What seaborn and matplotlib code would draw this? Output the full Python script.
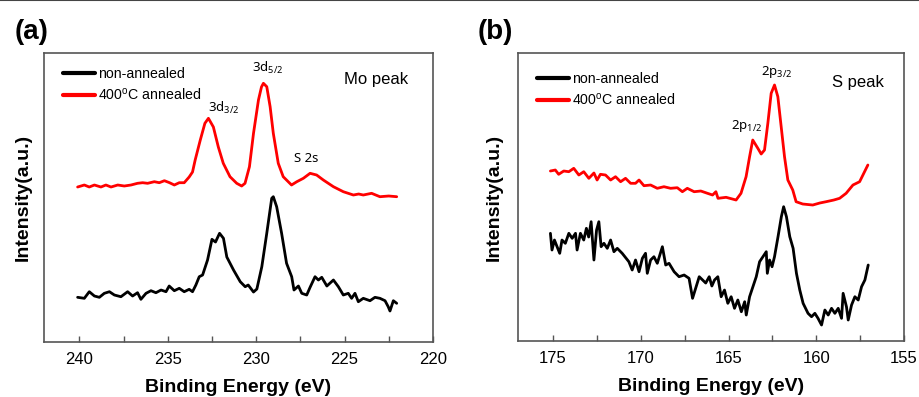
import numpy as np
import pandas as pd
import matplotlib
matplotlib.use("Agg")
import matplotlib.pyplot as plt
from matplotlib.ticker import MultipleLocator
from matplotlib.lines import Line2D
import seaborn as sns

# ---------------- data: panel (a) Mo 3d ----------------
mo_red_ev = [240.1, 239.72, 239.44, 239.15, 238.78, 238.5, 238.21, 237.83, 237.46, 237.08,
             236.71, 236.42, 236.14, 235.76, 235.48, 235.19, 234.9, 234.63, 234.35, 234.07,
             233.79, 233.6, 233.45, 233.16, 232.9, 232.7, 232.42, 232.14, 231.86, 231.48,
             231.1, 230.82, 230.63, 230.38, 230.15, 229.87, 229.7, 229.59, 229.4, 229.21,
             229.03, 228.75, 228.47, 228.0, 227.7, 227.33, 226.95, 226.58, 226.2, 225.63,
             225.07, 224.5, 224.2, 223.94, 223.47, 223.0, 222.5, 222.05]
mo_red_int = [155, 157, 155, 157, 155, 157, 155, 157, 156, 157,
              158.7, 159.3, 158.7, 160.3, 159.3, 161.3, 159.3, 157, 159.3, 159.3,
              165, 170, 182, 202, 218.7, 223.7, 215, 195, 178.7, 165.3,
              158.7, 156, 158.7, 175.3, 208.7, 242, 255, 258.7, 255.3, 235.3,
              208.7, 178.7, 165.3, 157, 160.3, 163.7, 168.7, 167, 162, 155.3,
              150.3, 147, 148, 147, 148.7, 145.3, 146, 145.3]

mo_blk_ev = [240.1, 239.72, 239.44, 239.15, 238.87, 238.59, 238.3, 238.02, 237.65, 237.27,
             236.99, 236.71, 236.52, 236.23, 235.95, 235.67, 235.38, 235.1, 234.92, 234.63,
             234.35, 234.07, 233.79, 233.6, 233.41, 233.22, 233.03, 232.75, 232.5, 232.3,
             232.07, 231.85, 231.66, 231.28, 230.9, 230.62, 230.45, 230.15, 229.96, 229.68,
             229.4, 229.12, 229.03, 228.84, 228.56, 228.28, 227.99, 227.86, 227.61, 227.42,
             227.14, 226.95, 226.67, 226.48, 226.29, 226.0, 225.63, 225.35, 225.07, 224.79,
             224.6, 224.41, 224.22, 223.94, 223.56, 223.28, 223.0, 222.71, 222.53, 222.43,
             222.24, 222.05]
mo_blk_int = [44.7, 43.7, 50.3, 46, 44.7, 48.7, 50.3, 47, 45.3, 50.3,
              46, 49.3, 42.7, 48.7, 51.3, 49.3, 52, 50.3, 56, 51.3,
              53.7, 50.3, 52.7, 50.3, 57, 65.3, 67, 82, 102.7, 100,
              108.7, 103.7, 85, 72, 60.3, 55.3, 57, 50, 53, 75.3,
              108.7, 143.7, 145.3, 135.3, 108.7, 78.7, 65.3, 52, 56, 48.7,
              47, 54.7, 65.3, 62, 64.7, 56, 62, 55.3, 47, 48.7,
              43.7, 48.7, 40.3, 43.7, 41.3, 44.7, 43.7, 41.3, 35.3, 31,
              41.3, 38.7]

# ---------------- data: panel (b) S 2p ----------------
s_red_ev = [175.15, 174.87, 174.68, 174.39, 174.1, 173.82, 173.53, 173.25, 172.96, 172.67,
            172.49, 172.3, 172.01, 171.72, 171.44, 171.15, 170.87, 170.58, 170.3, 170.1,
            169.82, 169.44, 169.06, 168.68, 168.3, 167.92, 167.63, 167.35, 166.96, 166.58,
            166.2, 165.91, 165.72, 165.6, 165.14, 164.57, 164.29, 164.0, 163.8, 163.62,
            163.33, 163.14, 162.95, 162.76, 162.57, 162.38, 162.19, 162.0, 161.81, 161.62,
            161.34, 161.15, 160.77, 160.2, 159.8, 159.44, 159.0, 158.67, 158.3, 157.91,
            157.53, 157.06]
s_red_int = [170, 171, 166.7, 170, 169.3, 172.7, 166, 169.3, 162.7, 168,
             161, 166.7, 166, 161, 164.3, 159.3, 162.7, 157.7, 157.7, 161,
             155.3, 156, 152.7, 154.3, 152.7, 153.3, 149.3, 152.7, 149.3, 150,
             147.7, 146, 149.3, 142.7, 143.7, 141, 147.7, 164.3, 184.3, 201,
             192.7, 187, 191, 217.7, 247.7, 256, 244.3, 214.3, 184.3, 161,
             151, 139.3, 137, 136, 138, 139.3, 141, 142.7, 147.7, 156,
             159.3, 176]

s_blk_ev = [175.15, 175.06, 174.92, 174.77, 174.62, 174.49, 174.3, 174.1, 173.91, 173.72,
            173.63, 173.44, 173.25, 173.1, 172.97, 172.83, 172.67, 172.52, 172.39, 172.26,
            172.1, 171.91, 171.72, 171.53, 171.34, 171.06, 170.68, 170.49, 170.3, 170.1,
            169.91, 169.73, 169.63, 169.44, 169.25, 169.06, 168.77, 168.58, 168.39, 168.1,
            167.82, 167.53, 167.25, 167.05, 166.67, 166.3, 166.1, 165.95, 165.8, 165.61,
            165.42, 165.23, 165.04, 164.85, 164.66, 164.47, 164.27, 164.08, 163.99, 163.8,
            163.61, 163.42, 163.23, 163.04, 162.85, 162.79, 162.66, 162.52, 162.38, 162.18,
            161.99, 161.86, 161.7, 161.51, 161.32, 161.13, 160.94, 160.75, 160.47, 160.27,
            160.08, 159.9, 159.7, 159.51, 159.32, 159.13, 158.94, 158.75, 158.56, 158.47,
            158.28, 158.18, 157.99, 157.8, 157.61, 157.42, 157.23, 157.04]
s_blk_int = [107.7, 91, 101, 94.3, 87.7, 101, 97.7, 107.7, 102.7, 107.7,
             91, 107.7, 101, 112.7, 104, 119.3, 81, 111, 119.3, 94.3,
             97.7, 92.7, 101, 89.3, 92.7, 87.7, 79.3, 71, 81, 69.3,
             82.7, 87.7, 67.7, 81, 84.3, 77.7, 94.3, 76, 77.7, 69.3,
             64.3, 66, 62.7, 42.7, 64.3, 58, 64.3, 55, 61, 64.3,
             44.3, 51, 37.7, 44.3, 32.7, 41, 29.3, 39.3, 26, 44.3,
             54.3, 64.3, 79.3, 84.3, 89.3, 67.7, 81, 74.3, 84.3, 104.3,
             124.3, 134.3, 124.3, 104.3, 92.7, 67.7, 51, 37.7, 27.7, 24.3,
             27.7, 22.7, 16, 31, 26, 32.7, 27.7, 32.7, 22.7, 47.7,
             34.3, 21, 36, 44.3, 41, 54.3, 61, 76]

legend_labels = ["non-annealed", "400$^{\\mathregular{o}}$C annealed"]

df_a = pd.concat([
    pd.DataFrame({"E": mo_blk_ev, "I": mo_blk_int, "s": legend_labels[0]}),
    pd.DataFrame({"E": mo_red_ev, "I": mo_red_int, "s": legend_labels[1]}),
])
df_b = pd.concat([
    pd.DataFrame({"E": s_blk_ev, "I": s_blk_int, "s": legend_labels[0]}),
    pd.DataFrame({"E": s_red_ev, "I": s_red_int, "s": legend_labels[1]}),
])

sns.set_style("white")
plt.rcParams["font.family"] = ["Liberation Sans", "DejaVu Sans"]
plt.rcParams["mathtext.fontset"] = "custom"
plt.rcParams["mathtext.rm"] = "Liberation Sans"
plt.rcParams["mathtext.default"] = "regular"
plt.rcParams["text.color"] = "black"
plt.rcParams["axes.labelcolor"] = "black"
plt.rcParams["xtick.color"] = "black"
plt.rcParams["xtick.labelcolor"] = "black"

fig = plt.figure(figsize=(9.19, 3.97), dpi=100)
ax_a = fig.add_axes([0.0479, 0.1385, 0.4232, 0.728])
ax_b = fig.add_axes([0.5636, 0.141, 0.4201, 0.7255])

palette = {legend_labels[0]: "black", legend_labels[1]: "#ff0000"}

settings = [(ax_a, df_a, (242, 220), (0, 289), (0.0488, 0.951), 9),
            (ax_b, df_b, (177, 155), (0, 288), (0.049, 0.934), 11)]
for ax, df, xlim, ylim, anchor, ylpad in settings:
    sns.lineplot(data=df, x="E", y="I", hue="s", palette=palette, sort=False,
                 estimator=None, lw=2, ax=ax, legend=True)
    ax.set_xlim(*xlim)
    ax.set_ylim(*ylim)
    ax.set_yticks([])
    ax.xaxis.set_major_locator(MultipleLocator(5))
    ax.xaxis.set_minor_locator(MultipleLocator(2.5))
    ax.tick_params(axis="x", which="both", direction="in", bottom=True, length=4,
                   width=1, color="#555555", labelcolor="black", labelsize=12, pad=7)
    ax.set_xlabel("Binding Energy (eV)", fontsize=14, fontweight="bold", labelpad=8.5,
                  color="black")
    ax.set_ylabel("Intensity(a.u.)", fontsize=14, fontweight="bold", labelpad=ylpad,
                  color="black")
    for sp in ax.spines.values():
        sp.set_color("#555555")
        sp.set_linewidth(1.2)
    leg = ax.legend(loc="upper left", frameon=False, fontsize=10.2, handlelength=2.25,
                    handletextpad=0.2, labelspacing=0.4, borderaxespad=0, borderpad=0,
                    bbox_to_anchor=anchor, labelcolor="black")
    for h in leg.get_lines():
        h.set_linewidth(3)

ann_font = dict(fontsize=9.5, family=["Noto Sans", "DejaVu Sans"], ha="center",
                va="center", color="black")
# annotations panel a
ax_a.text(229.32, 274, "3d$_{5/2}$", **ann_font)
ax_a.text(231.86, 234, "3d$_{3/2}$", **ann_font)
ax_a.text(227.18, 184, "S 2s", **ann_font)
ax_a.text(0.853, 0.907, "Mo peak", transform=ax_a.transAxes, ha="center", va="center",
          fontsize=12, color="black")

# annotations panel b
ax_b.text(162.26, 269, "2p$_{3/2}$", **ann_font)
ax_b.text(163.97, 215, "2p$_{1/2}$", **ann_font)
ax_b.text(0.8795, 0.899, "S peak", transform=ax_b.transAxes, ha="center", va="center",
          fontsize=12, color="black")

fig.text(0.016, 0.919, "(a)", fontsize=20, fontweight="bold", ha="left", va="center",
         color="black")
fig.text(0.520, 0.919, "(b)", fontsize=20, fontweight="bold", ha="left", va="center",
         color="black")

fig.add_artist(Line2D([0, 1], [0.999, 0.999], transform=fig.transFigure,
                      color="#444444", lw=1.5))

fig.savefig("out.png", dpi=100)
